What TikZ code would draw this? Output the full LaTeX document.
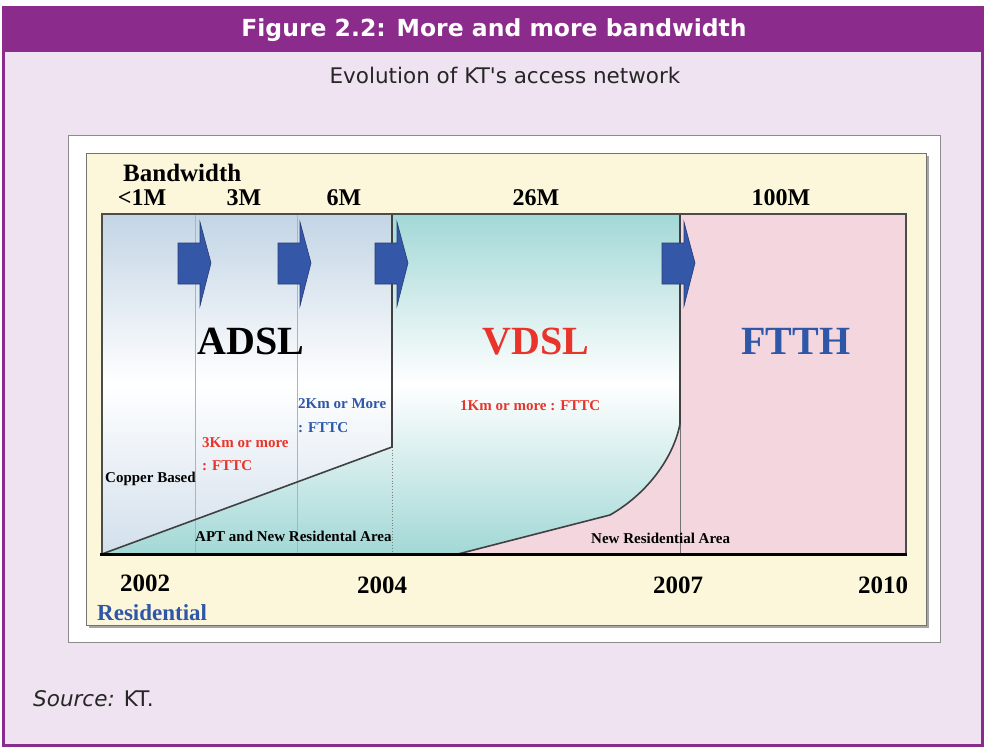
\documentclass[tikz,border=0pt]{standalone}
\usepackage{fontspec}
\setmainfont{Liberation Serif}
\setsansfont{DejaVu Sans}
\usetikzlibrary{positioning}
\definecolor{boxpurple}{HTML}{8B2B8B}
\definecolor{boxlilac}{HTML}{EFE3F1}
\definecolor{chartcream}{HTML}{FCF7DA}
\definecolor{adslblue}{HTML}{C3D5E5}
\definecolor{vdslteal}{HTML}{A2D8D6}
\definecolor{ftthpink}{HTML}{F4D6DF}
\definecolor{arrowblue}{HTML}{3557A8}
\definecolor{txtred}{HTML}{E8342B}
\definecolor{txtblue}{HTML}{2E57A8}
\tikzset{
	boxtext/.style = {inner sep=0pt, text=black!85,
		font=\sffamily\fontsize{21.5}{25}\selectfont},
	hdr_lbl/.style = {inner sep=0pt, white,
		font=\sffamily\bfseries\fontsize{23.5}{27}\selectfont},
	bw_lbl/.style = {inner sep=0pt, anchor=base,
		font=\bfseries\fontsize{24}{28}\selectfont},
	yr_lbl/.style = {bw_lbl, font=\bfseries\fontsize{25}{28}\selectfont},
	tech_lbl/.style = {inner sep=0pt, anchor=base,
		font=\bfseries\fontsize{40}{44}\selectfont},
	note_lbl/.style = {inner sep=0pt, anchor=base west,
		font=\bfseries\fontsize{15}{17}\selectfont},
	div_ln/.style = {black!30, line width=0.8pt},
	edge_ln/.style = {black!75, line width=1.6pt},
	blk_arr/.style = {fill=arrowblue, draw=arrowblue!70!black, line width=0.6pt}
}
\begin{document}
\begin{tikzpicture}[x=1pt, y=-1pt]
\useasboundingbox (0,0) rectangle (985,749);
% outer box
\fill[boxlilac] (3,8) rectangle (982,745);
\fill[boxpurple] (3,8) rectangle (982,52);
\draw[boxpurple, line width=3pt] (3,8) rectangle (982,745);
\node[hdr_lbl] (title) at (494,30) {Figure 2.2: More and more bandwidth};
\node[boxtext, anchor=base] (subtitle) at (505,84) {Evolution of KT\textquotesingle s access network};
\node[boxtext, anchor=base west] (source) at (33,706) {\textit{Source:} KT.};

% picture frame
\draw[black!45, fill=white, line width=0.8pt] (68,135) rectangle (940,642);
\fill[black!35] (89,156) rectangle (929,628);
\draw[black!55, fill=chartcream, line width=0.8pt] (86,153) rectangle (926,625);

% regions
\fill[ftthpink] (102,214) rectangle (906,554);
\shade[top color=vdslteal, bottom color=vdslteal, middle color=white]
	(102,554) -- (392,447) -- (392,214) -- (680,214) -- (680,424)
	.. controls (674,455) and (650,492) .. (610,515) -- (458,554) -- cycle;
\shade[top color=adslblue, bottom color=adslblue!75, middle color=white]
	(102,214) -- (392,214) -- (392,447) -- (102,554) -- cycle;

% lines
\draw[div_ln] (195,214) -- (195,554);
\draw[div_ln] (297,214) -- (297,554);
\draw[div_ln, dotted, black!50] (392,447) -- (392,554);
\draw[div_ln, black!55] (680,424) -- (680,554);
\draw[edge_ln] (102,554) -- (392,447) -- (392,214);
\draw[edge_ln] (458,554) -- (610,515) .. controls (650,492) and (674,455) .. (680,424) -- (680,214);
\draw[black!70, line width=1.4pt] (102,554) -- (102,214) -- (906,214) -- (906,554);
\draw[black, line width=3pt] (100,554) -- (907,554);

% block arrows
\foreach \ax in {178,278,375,662}
	\draw[blk_arr] (\ax,243) -- ++(22,0) -- ++(0,-21) -- ++(11,41) -- ++(-11,43)
		-- ++(0,-22) -- ++(-22,0) -- cycle;

% bandwidth
\node[bw_lbl, anchor=base west, font=\bfseries\fontsize{25}{28}\selectfont] (bw) at (123,181) {Bandwidth};
\node[bw_lbl] (bw_1m) at (142,205) {<1M};
\node[bw_lbl] (bw_3m) at (244,205) {3M};
\node[bw_lbl] (bw_6m) at (344,205) {6M};
\node[bw_lbl] (bw_26m) at (536,205) {26M};
\node[bw_lbl] (bw_100m) at (781,205) {100M};

% technologies
\node[tech_lbl] (adsl) at (251,354) {ADSL};
\node[tech_lbl, txtred] (vdsl) at (536,354) {VDSL};
\node[tech_lbl, txtblue] (ftth) at (796,354) {FTTH};

% notes
\node[note_lbl, txtblue] (n2km) at (298,408) {2Km or More};
\node[note_lbl, txtblue, below=24pt of n2km.base west, anchor=base west] (n2km_b) {: FTTC};
\node[note_lbl, txtred] (n3km) at (202,447) {3Km or more};
\node[note_lbl, txtred, below=23pt of n3km.base west, anchor=base west] (n3km_b) {: FTTC};
\node[note_lbl, txtred] (n1km) at (460,410) {1Km or more : FTTC};
\node[note_lbl] (copper) at (105,482) {Copper Based};
\node[note_lbl] (apt) at (195,541) {APT and New Residental Area};
\node[note_lbl] (newres) at (591,543) {New Residential Area};

% years
\node[yr_lbl] (y2002) at (145,591) {2002};
\node[yr_lbl] (y2004) at (382,593) {2004};
\node[yr_lbl] (y2007) at (678,593) {2007};
\node[yr_lbl] (y2010) at (883,593) {2010};
\node[bw_lbl, anchor=base west, txtblue, font=\bfseries\fontsize{23}{26}\selectfont] (resid) at (97,620) {Residential};
\end{tikzpicture}
\end{document}
